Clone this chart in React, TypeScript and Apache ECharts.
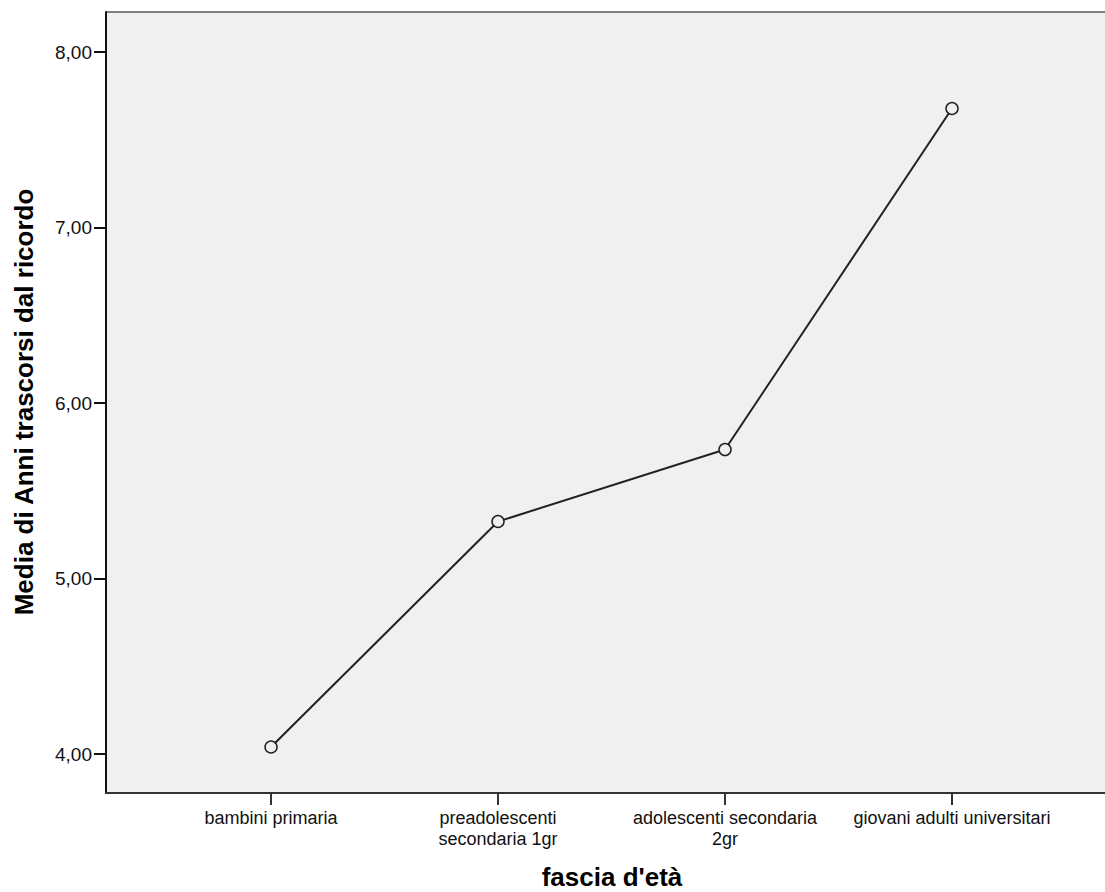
import React, { useEffect, useRef } from "react";
import * as echarts from "echarts";

const categories = [
  "bambini primaria",
  "preadolescenti\nsecondaria 1gr",
  "adolescenti secondaria\n2gr",
  "giovani adulti universitari",
];
const meanValues = [4.04, 5.325, 5.735, 7.678];
const yTicks = [4, 5, 6, 7, 8];
const xTitle = "fascia d'età";
const yTitle = "Media di Anni trascorsi dal ricordo";

export default function App() {
  const ref = useRef<HTMLDivElement>(null);
  useEffect(() => {
    if (!ref.current) return;
    const chart = echarts.init(ref.current, null, { renderer: "svg" });
    const font = "'Liberation Sans', Arial, sans-serif";
    chart.setOption({
      animation: false,
      backgroundColor: "#ffffff",
      grid: {
        left: 106,
        right: 0,
        top: 12,
        bottom: 99,
        show: true,
        backgroundColor: "#f0f0f0",
        borderWidth: 0,
      },
      xAxis: {
        type: "value",
        min: -0.727,
        max: 3.674,
        splitLine: { show: false },
        axisLine: { show: true, onZero: false, lineStyle: { color: "#333", width: 2 } },
        axisTick: {
          show: true,
          customValues: categories.map((_, i) => i),
          length: 12,
          lineStyle: { color: "#333", width: 2 },
        },
        axisLabel: {
          customValues: categories.map((_, i) => i),
          formatter: (v: number) => categories[Math.round(v)] ?? "",
          margin: 15,
          fontFamily: font,
          fontSize: 18,
          lineHeight: 20.5,
          color: "#111",
          verticalAlign: "top",
        },
      },
      yAxis: {
        type: "value",
        min: 3.778,
        max: 8.228,
        splitLine: { show: false },
        axisLine: { show: true, onZero: false, lineStyle: { color: "#111", width: 2 } },
        axisTick: {
          show: true,
          customValues: yTicks,
          length: 12,
          lineStyle: { color: "#111", width: 2 },
        },
        axisLabel: {
          customValues: yTicks,
          formatter: (v: number) => v.toFixed(2).replace(".", ","),
          margin: 14,
          fontFamily: font,
          fontSize: 19,
          color: "#111",
        },
      },
      graphic: [
        {
          type: "line",
          shape: { x1: 106, y1: 12, x2: 1105, y2: 12 },
          style: { stroke: "#808080", lineWidth: 2 },
        },
        {
          type: "text",
          x: 612,
          y: 877,
          style: {
            text: xTitle,
            font: `bold 26px ${font}`,
            fill: "#000",
            textAlign: "center",
            textVerticalAlign: "middle",
          },
        },
        {
          type: "text",
          x: 24,
          y: 402,
          rotation: Math.PI / 2,
          style: {
            text: yTitle,
            font: `bold 26px ${font}`,
            fill: "#000",
            textAlign: "center",
            textVerticalAlign: "middle",
          },
        },
      ],
      series: [
        {
          type: "line",
          data: meanValues.map((v, i) => [i, v]),
          symbol: "circle",
          symbolSize: 12,
          itemStyle: { color: "#f0f0f0", borderColor: "#222", borderWidth: 1.5 },
          lineStyle: { color: "#222", width: 2 },
        },
      ],
    });
    return () => chart.dispose();
  }, []);
  return (
    <div
      ref={ref}
      style={{ position: "absolute", left: 0, top: 0, width: 1105, height: 892 }}
    />
  );
}
